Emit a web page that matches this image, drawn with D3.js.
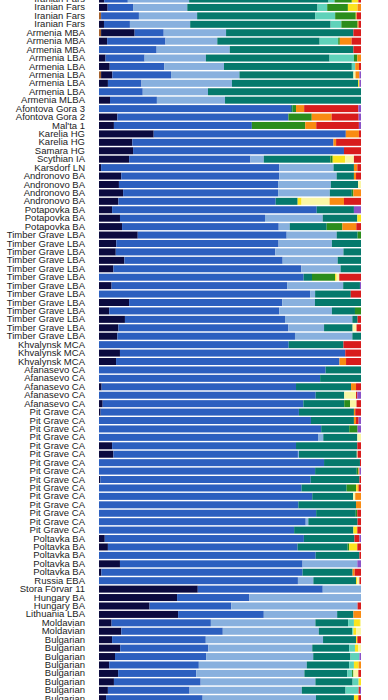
<!DOCTYPE html>
<html>
<head>
<meta charset="utf-8">
<script src="https://cdn.jsdelivr.net/npm/d3@7"></script>
<style>
html,body{margin:0;padding:0;background:#fff;overflow:hidden;}
svg{display:block;}
text{font-family:"Liberation Sans",Arial,Helvetica,sans-serif;}
</style>
</head>
<body>
<svg id="chart" width="388" height="700"></svg>
<script>
// ---- data ----
const components = ["brown","navy","blue","lblue","teal","aqua","green","yellow","pyellow","orange","red","purple"];
const colors = ["#a3602c","#0b0a3f","#2c5fbf","#88b0de","#05796c","#5fd2ba","#2b8d1c","#fbe41e","#faf6a6","#f98b12","#d81c1c","#8a52c8"];

const labels = [
  "Iranian Fars","Iranian Fars","Iranian Fars","Iranian Fars",
  "Armenia MBA","Armenia MBA","Armenia MBA",
  "Armenia LBA","Armenia LBA","Armenia LBA","Armenia LBA","Armenia LBA",
  "Armenia MLBA","Afontova Gora 3","Afontova Gora 2","Mal'ta 1",
  "Karelia HG","Karelia HG","Samara HG","Scythian IA","Karsdorf LN",
  "Andronovo BA","Andronovo BA","Andronovo BA","Andronovo BA",
  "Potapovka BA","Potapovka BA","Potapovka BA",
  "Timber Grave LBA","Timber Grave LBA","Timber Grave LBA","Timber Grave LBA","Timber Grave LBA",
  "Timber Grave LBA","Timber Grave LBA","Timber Grave LBA","Timber Grave LBA","Timber Grave LBA",
  "Timber Grave LBA","Timber Grave LBA","Timber Grave LBA",
  "Khvalynsk MCA","Khvalynsk MCA","Khvalynsk MCA",
  "Afanasevo CA","Afanasevo CA","Afanasevo CA","Afanasevo CA","Afanasevo CA",
  "Pit Grave CA","Pit Grave CA","Pit Grave CA","Pit Grave CA","Pit Grave CA",
  "Pit Grave CA","Pit Grave CA","Pit Grave CA","Pit Grave CA","Pit Grave CA",
  "Pit Grave CA","Pit Grave CA","Pit Grave CA","Pit Grave CA","Pit Grave CA",
  "Poltavka BA","Poltavka BA","Poltavka BA","Poltavka BA","Poltavka BA",
  "Russia EBA","Stora Förvar 11","Hungary BA","Hungary BA","Lithuania LBA",
  "Moldavian","Moldavian",
  "Bulgarian","Bulgarian","Bulgarian","Bulgarian","Bulgarian","Bulgarian","Bulgarian","Bulgarian"
];

// ancestry proportions (%) per row, in the order of `components`
const proportions = [
  [0,2,9,23.4,53.2,2.3,6.6,2.5,0,0,1,0],
  [0,3.3,9.7,20.7,49.7,3.7,7.9,3.7,0,1.3,0,0],
  [0.8,0,14.5,22.3,45.3,7.6,7.9,0.3,0,0,1.7,0],
  [0,1.9,9.9,23,53.6,4.1,6.2,0,0,0.4,0.9,0],
  [0.8,12.8,11.1,23.8,48.6,0,0,0,0,0,2.9,0],
  [0,3.1,22.3,19.8,39.1,7.1,0.6,0,0,4.5,3.6,0],
  [0,0,22,27.9,47.2,0,0,0,0,0,2.9,0],
  [0,2.5,14.9,23.4,47.2,9.3,1.3,0,0,1.4,0,0],
  [0,4.1,20.9,22.8,48.9,1.3,0,0,0,1.4,0.8,0],
  [0.8,4.3,22.4,26.1,43.5,0,0,0,0.8,1.5,0,0.6],
  [0,3.4,12.8,34.5,48.1,0,0,0.5,0,0,0,0.6],
  [0,0,16.7,24.9,58.4,0,0,0,0,0,0,0],
  [0,4.2,17.9,26,51.9,0,0,0,0,0,0,0],
  [0,0,73.3,0,0.6,0,1.3,0,0,3.1,20.7,1],
  [0,7,65.3,0,0,0,8.9,0,0,7.6,10.3,0.9],
  [0,5.7,52.7,0,0,0,20.4,0,0,4.2,16.3,0.8],
  [0,20.9,73.4,0,0,0,0,0,0,5,0.8,0],
  [0,12.7,76.7,0,0,0,0,0,0,1,9.5,0],
  [0,13,80.5,0,0,0,0,0,0,0,6.5,0],
  [0,11.5,46.3,5.1,25.4,0,0.9,4.8,3.3,0,2.7,0],
  [0,0.8,68.1,20.7,7.8,0,0,0,0,1.3,1.4,0],
  [0,8.5,60.3,21.9,6.6,0,0,0,0,0.8,1.9,0],
  [0,7.6,60.7,20.1,10.4,0,0,0,1.1,0,0,0],
  [0,9.2,59.2,19.7,8.4,0,0.6,0,0,2.9,0,0],
  [0,7.4,60.1,0,8.4,0,0,1.5,10.7,5.5,6.5,0],
  [0,5,78.1,0,14.2,0,0,0,0,0,0,2.7],
  [0,8,55.3,22,13.2,0,0,1.4,0,0,0,0],
  [0,8.8,59.8,4.2,14.1,0,6,0,0,5.3,1.8,0],
  [0,14.8,56.9,19.1,8,0,1.3,0,0,0,0,0],
  [0,6.6,62,20.4,11.1,0,0,0,0,0,0,0],
  [0,6.4,60.9,26,6.7,0,0,0,0,0,0,0],
  [0,9.7,60.4,21,8.9,0,0,0,0,0,0,0],
  [0,5.5,71.8,15,7.8,0,0,0,0,0,0,0],
  [0,0,78.1,0,3.2,0,8.8,0.6,1,0,8.3,0],
  [0,4.8,67,21.4,6.4,0,0,0,0,0,0,0.4],
  [0,0,80.5,1.9,13.6,0,0,0,0,0,3.9,0],
  [0,11.5,58.5,12.5,17.6,0,0,0,0,0,0,0],
  [0,3.9,64.9,20.1,8.8,0,2.3,0,0,0,0,0],
  [0,9.9,61.1,25.7,2,0,0,0,0,0,1.3,0],
  [0,7.4,64.8,13.7,10.9,0,0,0,1.5,0,1.7,0],
  [0,7,67.8,21.9,3.3,0,0,0,0,0,0,0],
  [0,0,72.4,0,20.9,0,0,0,0,0,6.7,0],
  [0,8,86,0,0,0,0,0,0,0,6,0],
  [0,6.5,85.2,0,0,0,0,0,0,2.5,5.7,0],
  [0,0,86.5,0,13.5,0,0,0,0,0,0,0],
  [0,0,84.4,0,15.6,0,0,0,0,0,0,0],
  [0,1,74.2,0,21,0,0,0,0,1.9,1.9,0],
  [0,0,82.7,0,10.9,0,0,0,4.5,0,0.5,1.4],
  [0,1.4,76.6,0,15.6,0,2.2,0,2.5,0,1.7,0],
  [0,0.6,75.7,0,21,0,0,0,0,0.5,2.2,0],
  [0,0,80.9,0,16.4,0,0,0,0,0.8,1,0.9],
  [0,0,84.9,0,10.7,0,3.2,0,0,0,0,1.3],
  [0,0,83.6,2,13,0,0,0,1.4,0,0,0],
  [0,5,70.2,0,23.4,0,0,0,0,0,1.4,0],
  [0,5.5,70.5,0.4,22.1,0,0,0,0.3,0,1.3,0],
  [0,0,85.9,0,13.7,0,0,0,0,0,0.4,0],
  [0,0,82.4,0,15.9,0,0.6,0,0,0.4,0,0.6],
  [0,0.5,80.3,0,18.6,0,0,0,0,0,0.6,0],
  [0,0,77.4,0,17.2,0,3.6,0.6,0,0.5,0.8,0],
  [0,0,81.4,0,15.6,0,0,0,0.8,2.2,0,0],
  [0,0,76.1,0,22,0,0,0,0,1.9,0,0],
  [0,0,82.8,0,15.1,0,0.6,0,0,0,1.4,0],
  [0,0,78.9,1,18.8,0,0,0,0,0,1.3,0],
  [0,0,74.4,0,22.6,0,0,1.5,0,0,1.4,0],
  [0,2.2,76,0,19.3,0,0,0,0,0,1.9,0.6],
  [0,3.4,72.4,0,19.1,0,0.6,3.1,0,0,1.4,0],
  [0,0,82.7,0,16.7,0,0,0,0,0,0.6,0],
  [0,8,69.7,20.9,0,0,0,0,0,0,0,1.4],
  [0,0.9,76.8,0,19.1,0,0,0,0,0.8,2.4,0],
  [0,0,76,5.9,16.3,0,0,0.4,0.9,0,0.6,0],
  [0,37.7,47.7,14.6,0,0,0,0,0,0,0,0],
  [0,29.8,27.6,42.6,0,0,0,0,0,0,0,0],
  [0,19.3,31.2,48.2,0,0,0,0,0,0,1.3,0],
  [0,30.2,32.7,28,6.2,0,0,0,0,2.9,0,0],
  [0,4.8,37.9,39.9,12.5,2.2,0,2.3,0.4,0,0,0],
  [0,8.5,38.7,36.6,12.7,0.5,0,1,1.9,0,0,0],
  [0,5,35.8,44.8,12.6,0,0,0.5,0,0,1.4,0],
  [0,8.1,33.6,39.7,14.1,2.2,0,1.3,1,0,0,0],
  [0,6.1,34.7,40.8,14.2,3.4,0,0,0,0,0,0.6],
  [0,3.9,34.2,41.2,16.2,1.8,0,1.8,0,0.9,0,0],
  [0,7.3,29.8,41.3,16.4,1.8,0.5,0,1.9,0,1,0],
  [0,5.7,33.1,43.8,14.2,2.3,0,0.9,0,0,0,0],
  [0,3.4,31.2,42.9,16.7,5,0,0,0,0,0.5,0.4],
  [0,2.7,36.9,43.3,14.5,0,0,1.7,0,0,1,0]
];

// ---- chart ----
const svg = d3.select("#chart");
const W = 388, H = 700;
const rowStep = 8.43;
const yStart = -5.2;
const barLeft = 99, barRight = 361, labelRight = 85;

const table = proportions.map((vals, i) => {
  const o = {idx: i, label: labels[i]};
  components.forEach((c, j) => o[c] = vals[j]);
  return o;
});

const stack = d3.stack().keys(components).offset(d3.stackOffsetExpand);
const series = stack(table);

const x = d3.scaleLinear().domain([0, 1]).range([barLeft, barRight]);
const y = d3.scaleBand()
  .domain(table.map(d => d.idx))
  .range([yStart, yStart + rowStep * table.length])
  .paddingInner(0.17)
  .paddingOuter(0.085);
const color = d3.scaleOrdinal().domain(components).range(colors);

svg.append("g")
  .selectAll("g")
  .data(series)
  .join("g")
  .attr("fill", s => color(s.key))
  .selectAll("rect")
  .data(s => s)
  .join("rect")
  .attr("x", d => x(d[0]))
  .attr("width", d => Math.max(0, x(d[1]) - x(d[0])))
  .attr("y", d => y(d.data.idx))
  .attr("height", y.bandwidth());

const yAxis = d3.axisLeft(y).tickSize(0).tickPadding(0).tickFormat(i => labels[i]);
const ag = svg.append("g")
  .attr("transform", `translate(${labelRight},0)`)
  .call(yAxis);
ag.select(".domain").remove();
ag.selectAll("text")
  .attr("font-size", "9.5px")
  .attr("font-family", "'Liberation Sans', Arial, Helvetica, sans-serif")
  .attr("fill", "#1c1c1c");
</script>
</body>
</html>
